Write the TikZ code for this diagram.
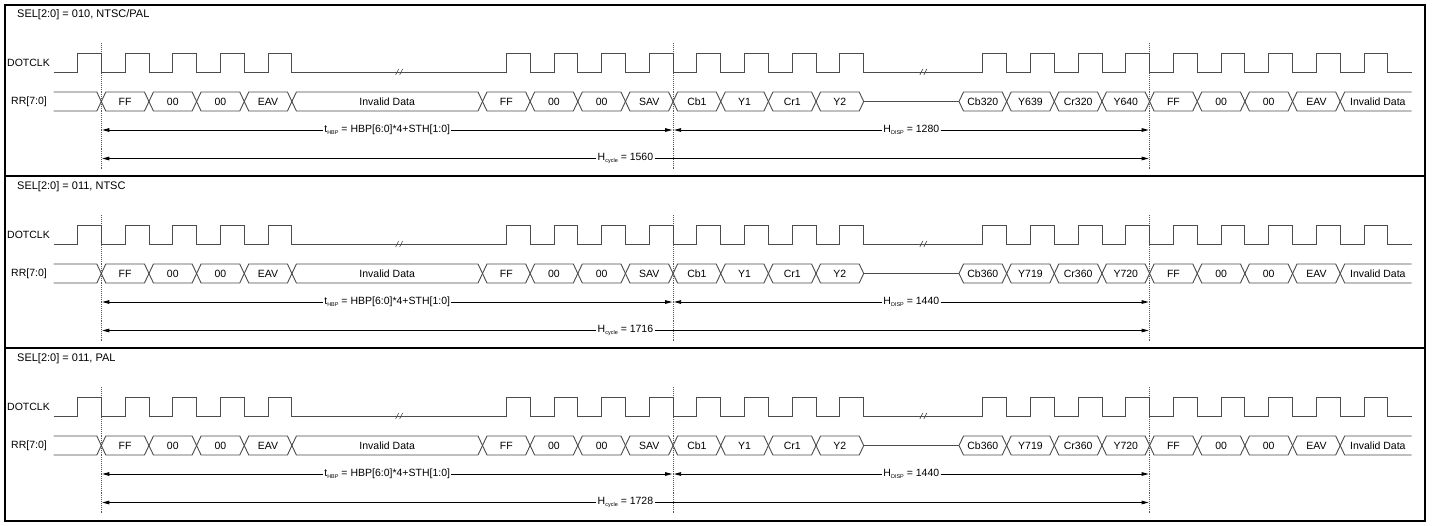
\documentclass[tikz,border=0pt]{standalone}
\usepackage{fontspec}
\setmainfont{Liberation Sans}
\usetikzlibrary{arrows.meta}
\newcommand\smallsub[1]{\raisebox{-0.4ex}{\fontsize{5.5}{6}\selectfont #1}}
\tikzset{
  sig/.style={draw=black!70, line width=0.9pt},
  bus/.style={draw=black!70, line width=0.9pt, line join=miter},
  lbl/.style={font=\fontsize{10.5}{12}\selectfont, inner sep=0pt, text=black},
  ttl/.style={font=\fontsize{11}{13}\selectfont, inner sep=0pt, text=black, anchor=west},
  meas/.style={draw=black, line width=0.8pt, -{Triangle[length=7pt,width=3.6pt]}, shorten >=1pt},
  mtxt/.style={font=\fontsize{10.5}{12}\selectfont, fill=white, inner sep=1.2pt},
  guide/.style={draw=black!65, line width=0.9pt, densely dotted},
  frame/.style={draw=black, line width=1.8pt},
  brk/.style={draw=black!70, line width=0.6pt},
}
% #1 yshift, #2 title, #3..#6 data labels, #7 disp, #8 cycle, #9 prefix
\newcommand\tdpanel[9]{%
\begin{scope}[yshift=-#1pt]
  \node[ttl] (#9title) at (17,15) {#2};
  \node[lbl, anchor=west] (#9clk) at (7,62.5) {DOTCLK};
  \node[lbl, anchor=west] (#9rr) at (11,101.5) {RR[7:0]};
  % break marks on the clock
  \foreach \m [count=\k] in {399.1,923.3} {
    \coordinate (#9bk\k a) at (\m-3.5,75); \coordinate (#9bk\k b) at (\m-0.5,69);
    \coordinate (#9bk\k c) at (\m+0.5,75); \coordinate (#9bk\k d) at (\m+3.5,69);
    \draw[brk] (#9bk\k a) -- (#9bk\k b);
    \draw[brk] (#9bk\k c) -- (#9bk\k d);
  }
  \begin{scope}[xshift=101.3pt, x=47.65pt]
    % guide lines
    \foreach \t/\n in {0/a,12/b,22/c} {
      \coordinate (#9g\n t) at (\t,43);
      \coordinate (#9g\n b) at (\t,170);
      \draw[guide] (#9g\n t) -- (#9g\n b);
    }
    % clock
    \draw[sig] (-1,72) foreach \r in {-0.5,0.5,1.5,2.5,3.5,8.5,9.5,10.5,11.5,12.5,13.5,14.5,15.5,18.5,19.5,20.5,21.5,22.5,23.5,24.5,25.5,26.5}
      { -- (\r,72) -- (\r,53) -- (\r+0.5,53) -- (\r+0.5,72) } -- (27.5,72);
    % bus lead-in
    \draw[bus] (-1,92) -- (-0.094,92) -- (0,101.5) -- (-0.094,111) -- (-1,111);
    % bus cells
    \foreach \a/\b/\txt [count=\i] in {0/1/FF, 1/2/00, 2/3/00, 3/4/EAV, 4/8/Invalid Data, 8/9/FF, 9/10/00, 10/11/00, 11/12/SAV, 12/13/Cb1, 13/14/Y1, 14/15/Cr1, 15/16/Y2, 18/19/#3, 19/20/#4, 20/21/#5, 21/22/#6, 22/23/FF, 23/24/00, 24/25/00, 25/26/EAV} {
      \draw[bus] (\a,101.5) -- (\a+0.094,92) -- (\b-0.094,92) -- (\b,101.5) -- (\b-0.094,111) -- (\a+0.094,111) -- cycle;
      \node[lbl] (#9d\i) at ({(\a+\b)/2},101.5) {\txt};
    }
    % gap line
    \draw[bus] (16,101.5) -- (18,101.5);
    % last open cell
    \draw[bus] (27.5,92) -- (26.094,92) -- (26,101.5) -- (26.094,111) -- (27.5,111);
    \node[lbl] (#9dlast) at (26.79,101.5) {Invalid Data};
    % measurements
    \coordinate (#9p0) at (0,130);
    \coordinate (#9p12) at (12,130);
    \coordinate (#9q12) at (12,130);
    \coordinate (#9p22) at (22,130);
    \coordinate (#9c0) at (0,158.5);
    \coordinate (#9c22) at (22,158.5);
    \node[mtxt] (#9thbp) at (6,130) {t\smallsub{HBP} = HBP[6:0]*4+STH[1:0]};
    \node[mtxt] (#9hdisp) at (17,130) {H\smallsub{DISP} = #7};
    \node[mtxt] (#9hcyc) at (11,158.5) {H\smallsub{cycle} = #8};
    \draw[meas] (#9thbp) -- (#9p0);
    \draw[meas] (#9thbp) -- (#9p12);
    \draw[meas] (#9hdisp) -- (#9q12);
    \draw[meas] (#9hdisp) -- (#9p22);
    \draw[meas] (#9hcyc) -- (#9c0);
    \draw[meas] (#9hcyc) -- (#9c22);
  \end{scope}
\end{scope}}
\begin{document}
\begin{tikzpicture}[x=1pt, y=-1pt]
  \useasboundingbox (0,0) rectangle (1432,525);
  \fill[white] (0,0) rectangle (1432,525);
  \tdpanel{0}{SEL[2:0] = 010, NTSC/PAL}{Cb320}{Y639}{Cr320}{Y640}{1280}{1560}{A}
  \tdpanel{172}{SEL[2:0] = 011, NTSC}{Cb360}{Y719}{Cr360}{Y720}{1440}{1716}{B}
  \tdpanel{344}{SEL[2:0] = 011, PAL}{Cb360}{Y719}{Cr360}{Y720}{1440}{1728}{C}
  \coordinate (tl) at (5,5);
  \coordinate (br) at (1425,521);
  \draw[frame] (tl) rectangle (br);
  \coordinate (d1l) at (5,176); \coordinate (d1r) at (1425,176);
  \coordinate (d2l) at (5,348); \coordinate (d2r) at (1425,348);
  \draw[frame] (d1l) -- (d1r);
  \draw[frame] (d2l) -- (d2r);
\end{tikzpicture}
\end{document}
